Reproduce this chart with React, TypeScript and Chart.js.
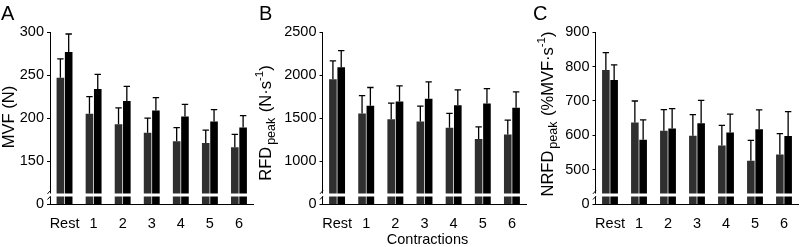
import React, { useEffect, useRef } from "react";
import { Chart, registerables } from "chart.js";

Chart.register(...registerables);

// ---------- data ----------
const categories = ["Rest", "1", "2", "3", "4", "5", "6"];

const mvfDark = [247, 205, 193, 183, 173, 171, 166];
const mvfDarkSD = [22, 20, 19, 17, 16, 15, 15];
const mvfBlack = [277, 234, 220, 209, 202, 196, 189];
const mvfBlackSD = [21, 17, 17, 15, 14, 14, 14];
const mvfTicks = [150, 200, 250, 300];

const rfdDark = [1953, 1554, 1488, 1461, 1388, 1256, 1310];
const rfdDarkSD = [214, 209, 186, 179, 167, 143, 167];
const rfdBlack = [2093, 1643, 1694, 1725, 1651, 1671, 1620];
const rfdBlackSD = [194, 214, 182, 197, 178, 174, 186];
const rfdTicks = [1000, 1500, 2000, 2500];

const nrfdDark = [790, 637, 613, 599, 570, 526, 544];
const nrfdDarkSD = [51, 63, 62, 61, 59, 59, 61];
const nrfdBlack = [761, 587, 620, 635, 608, 618, 598];
const nrfdBlackSD = [44, 58, 58, 67, 54, 56, 71];
const nrfdTicks = [500, 600, 700, 800, 900];

const xAxisTitle = "Contractions";

// ---------- styling ----------
const FONT = "'Liberation Sans', Arial, Helvetica, sans-serif";
const W = 800;
const H = 247;
const DARK = "#2f2f2f";
const BLACK = "#000000";

type Seg = { t: string; size: number; dy: number; gap?: number };

type Panel = {
  letter: string;
  letterX: number;
  dark: number[];
  darkSD: number[];
  black: number[];
  blackSD: number[];
  ticks: number[];
  min: number;
  left: number;
  right: number;
  title: Seg[];
  titleX: number;
  titleY: number;
  xTitle: boolean;
};

const panels: Panel[] = [
  {
    letter: "A",
    letterX: 1,
    dark: mvfDark,
    darkSD: mvfDarkSD,
    black: mvfBlack,
    blackSD: mvfBlackSD,
    ticks: mvfTicks,
    min: 100,
    left: 50,
    right: 253.5,
    title: [{ t: "MVF (N)", size: 16.5, dy: 0 }],
    titleX: 14,
    titleY: 117,
    xTitle: false,
  },
  {
    letter: "B",
    letterX: 259,
    dark: rfdDark,
    darkSD: rfdDarkSD,
    black: rfdBlack,
    blackSD: rfdBlackSD,
    ticks: rfdTicks,
    min: 500,
    left: 322.5,
    right: 526.5,
    title: [
      { t: "RFD", size: 16.5, dy: 0 },
      { t: "peak", size: 12.5, dy: 4.5, gap: 2 },
      { t: " (N·s", size: 16.5, dy: 0, gap: 1 },
      { t: "-1", size: 11.5, dy: -7.5 },
      { t: ")", size: 16.5, dy: 0 },
    ],
    titleX: 270.5,
    titleY: 123,
    xTitle: true,
  },
  {
    letter: "C",
    letterX: 533,
    dark: nrfdDark,
    darkSD: nrfdDarkSD,
    black: nrfdBlack,
    blackSD: nrfdBlackSD,
    ticks: nrfdTicks,
    min: 400,
    left: 595.5,
    right: 798.5,
    title: [
      { t: "NRFD", size: 16.5, dy: 0 },
      { t: "peak", size: 12.5, dy: 4.5, gap: 2 },
      { t: " (%MVF·s", size: 16.5, dy: 0, gap: 1 },
      { t: "-1", size: 11.5, dy: -7.5 },
      { t: ")", size: 16.5, dy: 0 },
    ],
    titleX: 552.5,
    titleY: 114,
    xTitle: false,
  },
];

function drawRotated(ctx: CanvasRenderingContext2D, segs: Seg[], cx: number, cy: number) {
  ctx.save();
  ctx.translate(cx, cy);
  ctx.rotate(-Math.PI / 2);
  ctx.fillStyle = "#000";
  ctx.textAlign = "left";
  ctx.textBaseline = "alphabetic";
  let total = 0;
  const widths = segs.map((s) => {
    ctx.font = `${s.size}px ${FONT}`;
    const w = ctx.measureText(s.t).width + (s.gap || 0);
    total += w;
    return w;
  });
  let x = -total / 2;
  segs.forEach((s, i) => {
    ctx.font = `${s.size}px ${FONT}`;
    ctx.fillText(s.t, x + (s.gap || 0), s.dy);
    x += widths[i];
  });
  ctx.restore();
}

function makePlugin(p: Panel) {
  return {
    id: "decor" + p.letter,
    afterDatasetsDraw(chart: any) {
      const ctx: CanvasRenderingContext2D = chart.ctx;
      const yScale = chart.scales.y;
      const area = chart.chartArea;
      const sds = [p.darkSD, p.blackSD];
      ctx.save();
      // error bars (upper only)
      chart.data.datasets.forEach((ds: any, di: number) => {
        const meta = chart.getDatasetMeta(di);
        meta.data.forEach((el: any, i: number) => {
          const v = ds.data[i];
          const top = yScale.getPixelForValue(v + sds[di][i]);
          ctx.strokeStyle = "#000";
          ctx.lineWidth = 1.3;
          ctx.beginPath();
          ctx.moveTo(el.x, el.y);
          ctx.lineTo(el.x, top);
          ctx.moveTo(el.x - 3.2, top);
          ctx.lineTo(el.x + 3.2, top);
          ctx.stroke();
        });
      });
      // axis break
      const bTop = area.bottom - 10.5;
      const bH = 3;
      ctx.fillStyle = "#fff";
      ctx.fillRect(area.left - 4, bTop, area.right - area.left + 4, bH);
      ctx.strokeStyle = "#000";
      ctx.lineWidth = 1;
      ctx.beginPath();
      ctx.moveTo(area.left - 2.5, bTop + 0.3);
      ctx.lineTo(area.left + 0.5, bTop - 3);
      ctx.moveTo(area.left - 2.5, bTop + bH + 3);
      ctx.lineTo(area.left + 0.5, bTop + bH - 0.3);
      ctx.stroke();
      ctx.restore();
    },
    afterDraw(chart: any) {
      const ctx: CanvasRenderingContext2D = chart.ctx;
      ctx.save();
      ctx.fillStyle = "#000";
      ctx.font = `20px ${FONT}`;
      ctx.textAlign = "left";
      ctx.textBaseline = "alphabetic";
      ctx.fillText(p.letter, p.letterX, 19.5);
      drawRotated(ctx, p.title, p.titleX, p.titleY);
      if (p.xTitle) {
        const area = chart.chartArea;
        ctx.font = `14.5px ${FONT}`;
        ctx.textAlign = "center";
        ctx.textBaseline = "middle";
        ctx.fillText(xAxisTitle, (area.left + area.right) / 2 + 3, 239.5);
      }
      ctx.restore();
    },
  };
}

function PanelChart({ p }: { p: Panel }) {
  const ref = useRef<HTMLCanvasElement | null>(null);
  useEffect(() => {
    if (!ref.current) return;
    const yWidth = 40;
    const maxTick = p.ticks[p.ticks.length - 1];
    const chart = new Chart(ref.current, {
      type: "bar",
      data: {
        labels: categories,
        datasets: [
          {
            data: p.dark,
            backgroundColor: DARK,
            borderWidth: 0,
            barPercentage: 0.916,
            categoryPercentage: 0.571,
          },
          {
            data: p.black,
            backgroundColor: BLACK,
            borderWidth: 0,
            barPercentage: 0.916,
            categoryPercentage: 0.571,
          },
        ],
      },
      options: {
        responsive: false,
        animation: false,
        devicePixelRatio: 1,
        layout: {
          padding: { left: p.left - yWidth, right: W - p.right, top: 32.3, bottom: 0 },
        },
        plugins: {
          legend: { display: false },
          tooltip: { enabled: false },
          title: { display: false },
        },
        scales: {
          x: {
            offset: true,
            grid: { display: false },
            border: { display: true, color: "#000", width: 1 },
            ticks: {
              color: "#000",
              font: { family: FONT, size: 14.5 },
              padding: 3,
              maxRotation: 0,
              autoSkip: false,
            },
            afterFit: (s: any) => {
              s.height = H - 204;
            },
          },
          y: {
            min: p.min,
            max: maxTick,
            grid: {
              display: true,
              drawOnChartArea: false,
              drawTicks: true,
              tickLength: 3,
              color: "#000",
              lineWidth: 1,
            },
            border: { display: true, color: "#000", width: 1 },
            ticks: {
              color: "#000",
              font: { family: FONT, size: 14.5 },
              padding: 3,
              autoSkip: false,
              callback: (v: any) => (Number(v) === p.min ? "0" : String(v)),
            },
            afterBuildTicks: (s: any) => {
              s.ticks = [p.min, ...p.ticks].map((value) => ({ value }));
            },
            afterFit: (s: any) => {
              s.width = yWidth;
            },
          },
        },
      },
      plugins: [makePlugin(p)],
    } as any);
    return () => chart.destroy();
  }, [p]);
  return (
    <canvas
      ref={ref}
      width={W}
      height={H}
      style={{ position: "absolute", left: 0, top: 0, width: W, height: H }}
    />
  );
}

export default function App() {
  return (
    <div
      style={{
        position: "absolute",
        left: 0,
        top: 0,
        width: W,
        height: H,
        background: "#fff",
        overflow: "hidden",
      }}
    >
      {panels.map((p) => (
        <PanelChart key={p.letter} p={p} />
      ))}
    </div>
  );
}
